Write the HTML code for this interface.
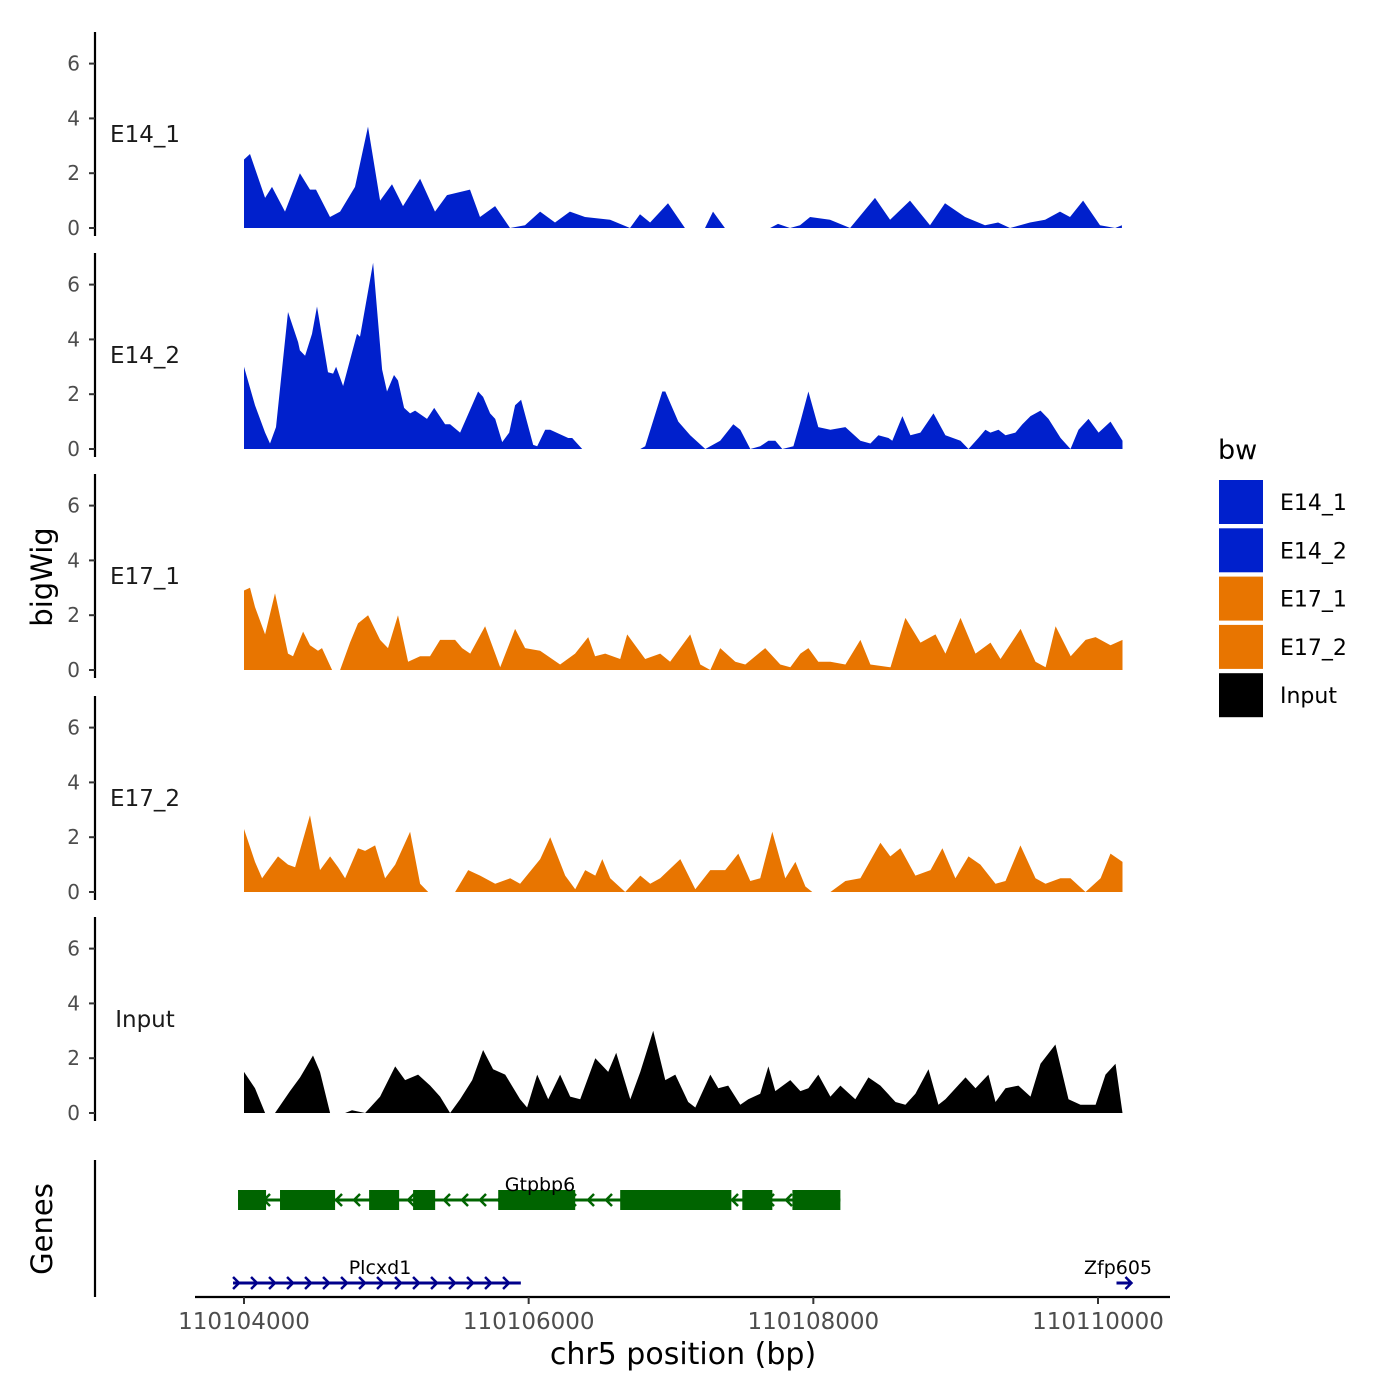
<!DOCTYPE html>
<html><head><meta charset="utf-8"><style>
html,body{margin:0;padding:0;background:#fff;}
svg{display:block;font-family:"DejaVu Sans","Liberation Sans",sans-serif;}
</style></head><body>
<svg id="chart" width="1400" height="1400" viewBox="0 0 1400 1400"></svg>
<script>
const START = 110104000;
const xTicks = [110104000, 110106000, 110108000, 110110000];
const yTicks = [0, 2, 4, 6];
const trackNames = ["E14_1", "E14_2", "E17_1", "E17_2", "Input"];
const trackColors = ["#0020CC", "#0020CC", "#E87500", "#E87500", "#000000"];

const posE14_1 = [0,42,148,197,288,393,464,506,604,675,780,871,956,1040,1117,1237,1342,1426,1588,1658,1764,1869,1974,2080,2185,2290,2396,2572,2712,2782,2853,2979,3098,3239,3295,3379,3696,3752,3836,3906,3977,4117,4258,4433,4539,4679,4820,4925,5066,5206,5298,5382,5522,5628,5733,5803,5895,6014,6120,6168];
const valE14_1 = [2.5,2.7,1.1,1.5,0.6,2.0,1.4,1.4,0.4,0.6,1.5,3.7,1.0,1.6,0.8,1.8,0.6,1.2,1.4,0.4,0.8,0,0.1,0.6,0.2,0.6,0.4,0.3,0,0.5,0.2,0.9,0,0,0.6,0,0,0.15,0,0.1,0.4,0.3,0,1.1,0.3,1.0,0.1,0.9,0.4,0.1,0.2,0,0.2,0.3,0.6,0.4,1.0,0.1,0,0.1];

const posE14_2 = [0,77,148,183,225,309,380,393,429,478,513,590,626,647,696,794,815,907,970,1005,1054,1082,1125,1167,1202,1286,1336,1413,1448,1518,1645,1680,1729,1765,1814,1863,1905,1947,2032,2060,2116,2151,2278,2306,2376,2784,2819,2939,2960,3051,3135,3241,3346,3438,3487,3557,3627,3684,3733,3782,3860,3909,3965,4035,4120,4225,4331,4401,4457,4528,4555,4626,4682,4752,4844,4928,5034,5090,5160,5209,5244,5301,5350,5420,5469,5526,5596,5652,5737,5807,5863,5933,6004,6088,6172];
const valE14_2 = [3.0,1.6,0.6,0.2,0.8,5.0,3.9,3.6,3.4,4.2,5.2,2.8,2.75,3.0,2.3,4.2,4.1,6.8,2.9,2.1,2.7,2.5,1.5,1.3,1.4,1.1,1.5,0.9,0.9,0.6,2.1,1.9,1.3,1.1,0.25,0.6,1.6,1.8,0.15,0.1,0.7,0.7,0.4,0.4,0,0,0.1,2.1,2.1,1.0,0.5,0,0.3,0.9,0.7,0,0.1,0.3,0.3,0,0.1,1.0,2.1,0.8,0.7,0.8,0.3,0.2,0.5,0.4,0.3,1.2,0.5,0.6,1.3,0.5,0.3,0,0.4,0.7,0.6,0.7,0.5,0.6,0.9,1.2,1.4,1.1,0.4,0,0.7,1.1,0.6,1.0,0.3];

const posE17_1 = [0,42,77,148,218,309,344,415,464,520,548,619,675,745,801,872,956,1012,1082,1153,1237,1307,1378,1483,1532,1589,1694,1800,1905,1975,2080,2221,2326,2418,2467,2538,2643,2692,2748,2819,2924,2994,3135,3206,3276,3346,3452,3522,3662,3768,3838,3909,3965,4035,4120,4225,4331,4401,4542,4647,4753,4858,4928,5034,5139,5245,5315,5456,5561,5632,5702,5808,5913,5983,6088,6172];
const valE17_1 = [2.9,3.0,2.3,1.3,2.8,0.6,0.5,1.4,0.9,0.7,0.8,0,0,1.0,1.7,2.0,1.1,0.8,2.0,0.3,0.5,0.5,1.1,1.1,0.8,0.6,1.6,0.1,1.5,0.8,0.7,0.2,0.6,1.2,0.5,0.6,0.4,1.3,0.9,0.4,0.6,0.3,1.3,0.2,0,0.8,0.3,0.2,0.8,0.2,0.1,0.6,0.8,0.3,0.3,0.2,1.1,0.2,0.1,1.9,1.0,1.3,0.6,1.9,0.6,1.0,0.4,1.5,0.3,0.1,1.6,0.5,1.1,1.2,0.9,1.1];

const posE17_2 = [0,77,127,183,239,309,359,464,534,605,661,710,801,851,921,991,1062,1167,1237,1294,1483,1575,1659,1765,1870,1940,2081,2151,2257,2327,2397,2468,2517,2573,2678,2784,2854,2924,3065,3171,3276,3381,3473,3557,3627,3712,3803,3874,3944,3993,4120,4225,4331,4471,4541,4612,4717,4823,4907,4998,5090,5174,5280,5350,5455,5561,5631,5736,5807,5912,6018,6088,6172];
const valE17_2 = [2.3,1.1,0.5,0.9,1.3,1.0,0.9,2.8,0.8,1.3,0.9,0.5,1.6,1.5,1.7,0.5,1.0,2.2,0.3,0,0,0.8,0.6,0.3,0.5,0.3,1.2,2.0,0.6,0.1,0.8,0.6,1.2,0.5,0,0.6,0.3,0.5,1.2,0.1,0.8,0.8,1.4,0.4,0.5,2.2,0.5,1.1,0.2,0,0,0.4,0.5,1.8,1.3,1.6,0.6,0.8,1.6,0.5,1.3,1.0,0.3,0.4,1.7,0.5,0.3,0.5,0.5,0,0.5,1.4,1.1];

const posInput = [0,77,148,218,323,394,485,534,605,710,759,851,956,1062,1132,1223,1308,1378,1448,1518,1603,1680,1750,1835,1940,1989,2060,2137,2221,2292,2362,2468,2559,2615,2714,2784,2875,2960,3030,3121,3171,3276,3332,3402,3487,3543,3627,3684,3733,3838,3909,3965,4035,4120,4190,4295,4387,4471,4577,4647,4717,4809,4879,4928,5069,5139,5230,5280,5350,5441,5526,5596,5701,5793,5877,5983,6053,6123,6172];
const valInput = [1.5,0.9,0,0,0.8,1.3,2.1,1.5,0,0,0.1,0,0.6,1.7,1.2,1.4,1.0,0.6,0,0.5,1.2,2.3,1.6,1.4,0.5,0.2,1.4,0.5,1.4,0.6,0.5,2.0,1.5,2.2,0.5,1.5,3.0,1.2,1.4,0.4,0.2,1.4,0.9,1.0,0.3,0.5,0.7,1.7,0.8,1.2,0.8,0.9,1.4,0.6,1.0,0.5,1.3,1.0,0.4,0.3,0.7,1.6,0.3,0.5,1.3,0.9,1.4,0.4,0.9,1.0,0.6,1.8,2.5,0.5,0.3,0.3,1.4,1.8,0];

const gtpbp6Exons = [[-42,155],[253,640],[879,1090],[1188,1343],[1786,2327],[2643,3424],[3501,3712],[3853,4190]];
const gtpbp6Span = [-42, 4190];
const plcxd1Span = [-77, 1945];
const zfp605Span = [6130, 6228];

const trackPos = [posE14_1, posE14_2, posE17_1, posE17_2, posInput];
const trackVal = [valE14_1, valE14_2, valE17_1, valE17_2, valInput];

const NS = "http://www.w3.org/2000/svg";
const svg = document.getElementById("chart");
function mk(tag, attrs, parent) {
  const e = document.createElementNS(NS, tag);
  for (const k in attrs) e.setAttribute(k, attrs[k]);
  (parent || svg).appendChild(e);
  return e;
}
function xScale(bp) { return 244 + (bp) * (854 / 6000); }
function xAbs(g) { return xScale(g - START); }
const ZERO = [228, 449, 670, 892, 1113];
const UNIT = 27.4;
function yScale(i, v) { return ZERO[i] - v * UNIT; }

for (let i = 0; i < 5; i++) {
  const g = mk("g", {});
  
  
  const P = trackPos[i], V = trackVal[i];
  const n = Math.min(P.length, V.length);
  let d = "M" + xScale(P[0]).toFixed(1) + "," + ZERO[i];
  for (let k = 0; k < n; k++) d += "L" + xScale(P[k]).toFixed(1) + "," + yScale(i, V[k]).toFixed(1);
  d += "L" + xScale(P[n-1]).toFixed(1) + "," + ZERO[i] + "Z";
  const area = mk("path", {d: d, fill: trackColors[i]}, g);
  
  
  const top = ZERO[i] - 196, bot = ZERO[i] + 8;
  const ax = mk("line", {x1: 95, x2: 95, y1: top, y2: bot, stroke: "#000", "stroke-width": 2.2}, g);
  
  
  yTicks.forEach(t => {
    const y = yScale(i, t);
    const tk = mk("line", {x1: 89, x2: 95, y1: y, y2: y, stroke: "#333", "stroke-width": 2}, g);
    
    
    const tl = mk("text", {x: 80, y: y + 7, "text-anchor": "end", "font-size": 20, fill: "#4d4d4d"}, g);
    tl.textContent = t;
    
    
  });
  const lab = mk("text", {x: 145, y: ZERO[i] - 86, "text-anchor": "middle", "font-size": 23, fill: "#1a1a1a"}, g);
  lab.textContent = trackNames[i];
  
  
}

const yt = mk("text", {x: 0, y: 0, transform: "translate(52,577) rotate(-90)", "text-anchor": "middle", "font-size": 29, fill: "#000"});
yt.textContent = "bigWig";


const gt = mk("text", {x: 0, y: 0, transform: "translate(52,1229) rotate(-90)", "text-anchor": "middle", "font-size": 29, fill: "#000"});
gt.textContent = "Genes";



const gg = mk("g", {});


const gax = mk("line", {x1: 95, x2: 95, y1: 1160, y2: 1297, stroke: "#000", "stroke-width": 2.2}, gg);



const GREEN = "#006400", NAVY = "#00008B";
const gl = mk("line", {x1: xScale(gtpbp6Span[0]), x2: xScale(gtpbp6Span[1]), y1: 1200, y2: 1200, stroke: GREEN, "stroke-width": 3}, gg);


for (let x = xScale(gtpbp6Span[0]) + 10; x < xScale(gtpbp6Span[1]); x += 18) {
  const a = mk("path", {d: `M${x+4},${1194}L${x-2},1200L${x+4},1206`, stroke: GREEN, "stroke-width": 2.5, fill: "none"}, gg);
  
  
}
gtpbp6Exons.forEach(e => {
  const r = mk("rect", {x: xScale(e[0]), y: 1190, width: xScale(e[1]) - xScale(e[0]), height: 20, fill: GREEN}, gg);
  
  
});
const t1 = mk("text", {x: 540, y: 1191, "text-anchor": "middle", "font-size": 19, fill: "#000"}, gg);
t1.textContent = "Gtpbp6";



const pl = mk("line", {x1: xScale(plcxd1Span[0]), x2: xScale(plcxd1Span[1]), y1: 1283, y2: 1283, stroke: NAVY, "stroke-width": 3}, gg);


for (let x = xScale(plcxd1Span[0]) + 4; x <= xScale(plcxd1Span[1]) + 1; x += 18) {
  const a = mk("path", {d: `M${x-4},1277L${x+2},1283L${x-4},1289`, stroke: NAVY, "stroke-width": 2.5, fill: "none"}, gg);
  
  
}
const t2 = mk("text", {x: 380, y: 1274, "text-anchor": "middle", "font-size": 19, fill: "#000"}, gg);
t2.textContent = "Plcxd1";



const zl = mk("line", {x1: xScale(zfp605Span[0]), x2: xScale(zfp605Span[1]), y1: 1283, y2: 1283, stroke: NAVY, "stroke-width": 3}, gg);


const za = mk("path", {d: `M${xScale(zfp605Span[1])-5},1277L${xScale(zfp605Span[1])+1},1283L${xScale(zfp605Span[1])-5},1289`, stroke: NAVY, "stroke-width": 2.5, fill: "none"}, gg);


const t3 = mk("text", {x: 1118, y: 1274, "text-anchor": "middle", "font-size": 19, fill: "#000"}, gg);
t3.textContent = "Zfp605";



const xa = mk("line", {x1: 195, x2: 1170, y1: 1297, y2: 1297, stroke: "#000", "stroke-width": 2.2});


xTicks.forEach(t => {
  const x = xAbs(t);
  const tk = mk("line", {x1: x, x2: x, y1: 1297, y2: 1304, stroke: "#333", "stroke-width": 2});
  
  
  const tl = mk("text", {x: x, y: 1329, "text-anchor": "middle", "font-size": 23, fill: "#4d4d4d"});
  tl.textContent = t;
  
  
});
const xt = mk("text", {x: 683, y: 1364, "text-anchor": "middle", "font-size": 30, fill: "#000"});
xt.textContent = "chr5 position (bp)";



const lg = mk("g", {});


const ltitle = mk("text", {x: 1218, y: 459, "font-size": 27, fill: "#000"}, lg);
ltitle.textContent = "bw";


trackNames.forEach((nm, i) => {
  const y = 480 + i * 48.3;
  const r = mk("rect", {x: 1219, y: y, width: 44, height: 44, fill: trackColors[i]}, lg);
  
  
  const t = mk("text", {x: 1280, y: y + 30, "font-size": 22, fill: "#000"}, lg);
  t.textContent = nm;
  
  
});
</script>
</body></html>
